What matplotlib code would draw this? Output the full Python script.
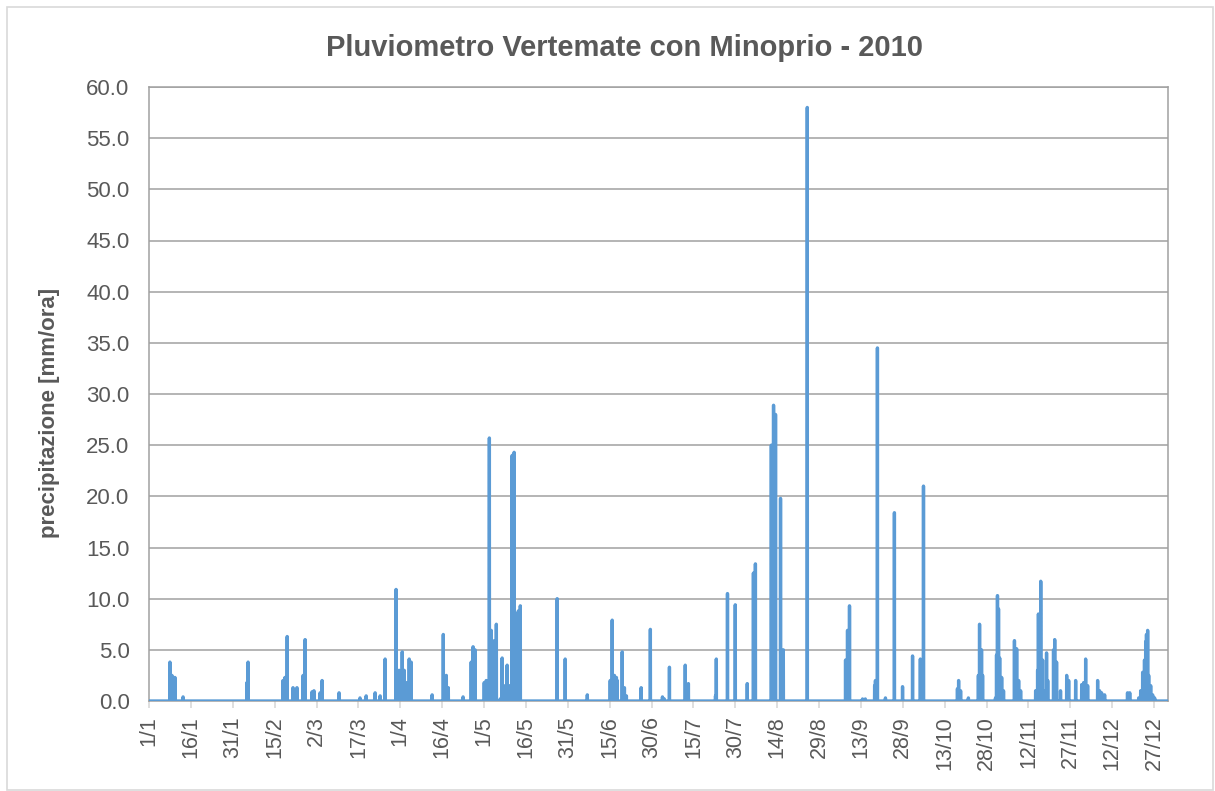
import numpy as np
import matplotlib
matplotlib.use("Agg")
import matplotlib.pyplot as plt
from matplotlib.patches import Rectangle

plt.rcParams['font.family'] = ['Liberation Sans', 'DejaVu Sans']

# rain events: day of year (days since 1/1 00:00) and hourly rain [mm/ora]
rain_day = [7.5, 8.2, 9.3, 12.2,
            35.1, 35.5,
            48.0, 48.7, 49.5, 51.6, 53.0,
            55.2, 55.9, 58.4, 59.1, 61.3, 62.0, 68.1,
            75.6, 77.8, 81.0, 82.8, 84.6,
            88.5, 89.6, 90.7, 91.4, 92.1, 93.2, 93.9,
            101.4, 105.4, 106.5, 107.2, 112.5,
            115.4, 116.1, 116.8, 120.1, 120.8,
            121.9, 122.6, 123.7, 124.4,
            125.8, 126.5, 127.6, 128.3, 129.0,
            130.1, 130.8, 131.5, 132.3, 133.0,
            146.2, 149.1, 157.0,
            165.2, 165.9, 166.7, 167.4, 167.7,
            169.5, 170.3, 171.0, 176.3, 179.6,
            183.9, 184.6, 186.4, 192.1, 193.2,
            202.9, 203.2, 207.2, 210.0, 214.3, 216.5, 217.2,
            222.9, 223.7, 224.4, 226.2, 227.2,
            235.8,
            249.5, 250.2, 250.9, 255.6, 256.6,
            259.9, 260.2, 260.9, 263.8,
            267.0, 269.9, 273.5, 276.3, 277.4,
            289.6, 290.0, 290.7, 293.5,
            297.1, 297.5, 298.2, 298.6,
            303.2, 303.6, 303.9, 304.3, 304.7, 305.4, 306.1,
            310.0, 310.8, 311.5, 312.2,
            317.6, 318.3, 318.6, 319.4, 320.1, 320.8, 321.5, 321.9,
            324.0, 324.4, 325.1, 326.5, 328.7, 329.4, 331.9,
            334.1, 334.8, 335.5, 336.2,
            339.8, 340.5, 341.2, 342.3, 350.5, 351.3,
            354.5, 355.2, 355.9, 356.6, 357.0, 357.3, 357.7, 358.1, 358.8, 359.5, 360.2]
rain_mm = [3.8, 2.5, 2.3, 0.4,
           1.8, 3.8,
           2.0, 2.3, 6.3, 1.3, 1.3,
           2.5, 6.0, 0.9, 1.0, 0.8, 2.0, 0.8,
           0.3, 0.5, 0.8, 0.5, 4.1,
           10.9, 3.0, 4.8, 3.0, 1.8, 4.1, 3.8,
           0.6, 6.5, 2.5, 1.3, 0.4,
           3.8, 5.3, 5.0, 1.8, 2.0,
           25.7, 6.9, 5.9, 7.5,
           0.2, 4.2, 1.5, 3.5, 1.5,
           24.0, 24.3, 8.5, 8.8, 9.3,
           10.0, 4.1, 0.6,
           2.0, 7.9, 2.5, 2.3, 2.0,
           4.8, 1.3, 0.5, 1.3, 7.0,
           0.4, 0.2, 3.3, 3.5, 1.7,
           0.5, 4.1, 10.5, 9.4, 1.7, 12.5, 13.4,
           25.0, 28.9, 28.0, 19.8, 5.0,
           58.0,
           4.0, 6.9, 9.3, 0.2, 0.2,
           1.5, 2.0, 34.5, 0.3,
           18.4, 1.4, 4.4, 4.1, 21.0,
           1.2, 2.0, 1.0, 0.3,
           2.5, 7.5, 5.0, 2.5,
           0.3, 4.5, 10.3, 9.0, 4.2, 2.3, 1.0,
           5.9, 5.1, 2.0, 1.0,
           1.0, 3.0, 8.5, 11.7, 4.0, 1.0, 4.7, 2.0,
           5.0, 6.0, 3.8, 1.0, 2.5, 2.0, 2.0,
           1.6, 1.8, 4.1, 1.5,
           2.0, 1.0, 0.8, 0.6, 0.8, 0.8,
           0.3, 1.0, 2.8, 4.0, 5.8, 6.5, 6.9, 2.5, 1.5, 0.6, 0.3]

tick_days = list(range(0, 361, 15))
tick_labels = ['1/1', '16/1', '31/1', '15/2', '2/3', '17/3', '1/4', '16/4', '1/5',
               '16/5', '31/5', '15/6', '30/6', '15/7', '30/7', '14/8', '29/8',
               '13/9', '28/9', '13/10', '28/10', '12/11', '27/11', '12/12', '27/12']

# hourly series for the whole year
hours = np.arange(365 * 24)
mm = np.zeros(len(hours))
for d, v in zip(rain_day, rain_mm):
    mm[int(round(d * 24))] = v

txt = '#595959'
fig = plt.figure(figsize=(12.15, 7.91), dpi=100)
fig.patches.append(Rectangle((7 / 1215, 1 / 791), 1206 / 1215, 783 / 791,
                             transform=fig.transFigure, fill=False,
                             edgecolor='#D9D9D9', lw=1.2))
ax = fig.add_axes([149 / 1215, 1 - 701 / 791, 1019 / 1215, 614 / 791])

ax.plot(hours / 24, mm, color='#5B9BD5', lw=2.4, solid_joinstyle='round', zorder=3)

ax.set_xlim(0, 365)
ax.set_ylim(0, 60)
ax.set_yticks(np.arange(0, 60.1, 5))
ax.set_yticklabels(['%.1f' % v for v in np.arange(0, 60.1, 5)])
ax.set_xticks(tick_days)
ax.set_xticklabels(tick_labels, rotation=90)
ax.grid(axis='y', color='#A0A0A0', lw=1.1)
ax.set_axisbelow(True)
for s in ax.spines.values():
    s.set_color('#A0A0A0')
    s.set_linewidth(1.1)
ax.tick_params(axis='y', length=0, pad=14, labelsize=16, labelcolor=txt)
ax.tick_params(axis='x', length=5, color='#D9D9D9', width=1.2, pad=6,
               labelsize=15.5, labelcolor=txt)
for lab in ax.get_xticklabels():
    lab.set_verticalalignment('top')

ax.set_ylabel('precipitazione [mm/ora]', fontsize=16, fontweight='bold', color=txt)
ax.yaxis.set_label_coords(-0.087, 0.469)
fig.text(625 / 1215, 1 - 48 / 791, 'Pluviometro Vertemate con Minoprio - 2010',
         ha='center', va='center', fontsize=21, fontweight='bold', color=txt)

fig.savefig('out.png', dpi=100)
